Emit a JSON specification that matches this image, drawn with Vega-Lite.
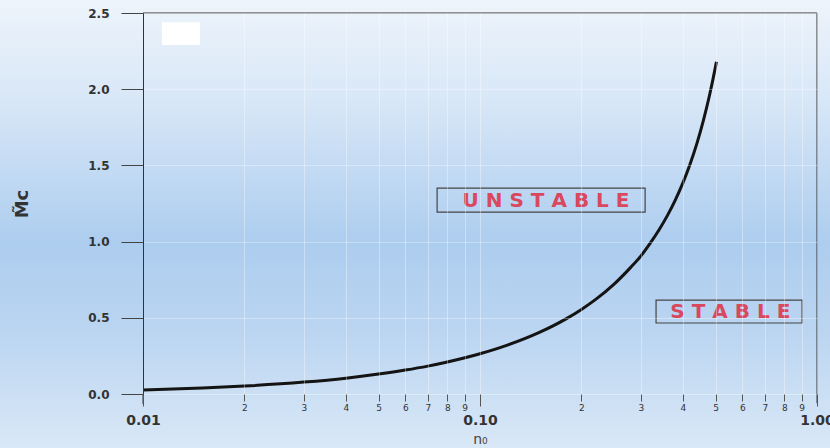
{
  "$schema": "https://vega.github.io/schema/vega-lite/v6.json",
  "autosize": "none",
  "width": 674,
  "height": 381,
  "padding": {"left": 143, "top": 13, "right": 13, "bottom": 54},
  "background": "#cfe1f4",
  "config": {"view": {"stroke": null}},
  "datasets": {
    "curve": [
      {"n0": 0.01, "Mc": 0.026},
      {"n0": 0.015, "Mc": 0.039},
      {"n0": 0.02, "Mc": 0.052},
      {"n0": 0.03, "Mc": 0.078},
      {"n0": 0.04, "Mc": 0.104},
      {"n0": 0.05, "Mc": 0.131},
      {"n0": 0.06, "Mc": 0.157},
      {"n0": 0.07, "Mc": 0.183},
      {"n0": 0.08, "Mc": 0.21},
      {"n0": 0.1, "Mc": 0.264},
      {"n0": 0.12, "Mc": 0.319},
      {"n0": 0.15, "Mc": 0.404},
      {"n0": 0.18, "Mc": 0.493},
      {"n0": 0.2, "Mc": 0.555},
      {"n0": 0.22, "Mc": 0.619},
      {"n0": 0.25, "Mc": 0.721},
      {"n0": 0.28, "Mc": 0.831},
      {"n0": 0.3, "Mc": 0.905},
      {"n0": 0.32, "Mc": 0.99},
      {"n0": 0.34, "Mc": 1.078},
      {"n0": 0.36, "Mc": 1.172},
      {"n0": 0.38, "Mc": 1.274},
      {"n0": 0.4, "Mc": 1.385},
      {"n0": 0.42, "Mc": 1.508},
      {"n0": 0.44, "Mc": 1.643},
      {"n0": 0.46, "Mc": 1.794},
      {"n0": 0.48, "Mc": 1.962},
      {"n0": 0.5, "Mc": 2.15},
      {"n0": 0.503, "Mc": 2.18}
    ],
    "labels": [
      {"label": "U N S T A B L E", "x": 0.157, "y": 1.265, "bx": 0.0746, "bx2": 0.309, "by": 1.193, "by2": 1.351},
      {"label": "S T A B L E", "x": 0.553, "y": 0.538, "bx": 0.333, "bx2": 0.903, "by": 0.466, "by2": 0.616}
    ],
    "frame": [
      {"x": 0.01, "x2": 1, "y": 2.5, "y2": 2.5},
      {"x": 1, "x2": 1, "y": -0.06, "y2": 2.5},
      {"x": 0.01, "x2": 0.01, "y": -0.065, "y2": 0}
    ]
  },
  "layer": [
    {
      "data": {"values": [{"x": 0.003, "x2": 1.2, "y": -0.4, "y2": 2.7}]},
      "mark": {
        "type": "rect",
        "fill": {
          "gradient": "linear", "x1": 0, "y1": 0, "x2": 0, "y2": 1,
          "stops": [
            {"offset": 0, "color": "#f1f6fc"},
            {"offset": 0.25, "color": "#d8e7f7"},
            {"offset": 0.55, "color": "#adcdef"},
            {"offset": 0.74, "color": "#bbd5f1"},
            {"offset": 1, "color": "#dbe9f7"}
          ]
        }
      },
      "encoding": {
        "x": {"field": "x", "type": "quantitative", "scale": {"type": "log", "domain": [0.01, 1], "nice": false}},
        "x2": {"field": "x2"},
        "y": {"field": "y", "type": "quantitative", "scale": {"domain": [0, 2.5], "nice": false, "zero": false}},
        "y2": {"field": "y2"}
      }
    },
    {
      "data": {"values": [{"x": 0.01138, "x2": 0.01476, "y": 2.29, "y2": 2.44}]},
      "mark": {"type": "rect", "fill": "#ffffff"},
      "encoding": {
        "x": {"field": "x", "type": "quantitative"},
        "x2": {"field": "x2"},
        "y": {"field": "y", "type": "quantitative"},
        "y2": {"field": "y2"}
      }
    },
    {
      "data": {"name": "frame"},
      "mark": {"type": "rule", "stroke": "#333333", "strokeWidth": 1},
      "encoding": {
        "x": {"field": "x", "type": "quantitative"},
        "x2": {"field": "x2"},
        "y": {"field": "y", "type": "quantitative"},
        "y2": {"field": "y2"}
      }
    },
    {
      "data": {"name": "curve"},
      "mark": {"type": "line", "stroke": "#141414", "strokeWidth": 3, "interpolate": "monotone"},
      "encoding": {
        "x": {
          "field": "n0", "type": "quantitative",
          "axis": {
            "zindex": 1,
            "title": "n₀",
            "titleFont": "DejaVu Sans",
            "titleFontSize": 14,
            "titleFontWeight": "normal",
            "titleColor": "#444444",
            "titlePadding": 5,
            "domain": false,
            "values": [0.01, 0.02, 0.03, 0.04, 0.05, 0.06, 0.07, 0.08, 0.09, 0.1, 0.2, 0.3, 0.4, 0.5, 0.6, 0.7, 0.8, 0.9, 1],
            "labelExpr": "(datum.value == 0.01 || datum.value == 0.1 || datum.value == 1) ? format(datum.value, '.2f') : substring(format(datum.value, '.0e'), 0, 1)",
            "labelFont": "DejaVu Sans",
            "labelColor": "#333333",
            "labelFontSize": {"condition": {"test": "datum.value == 0.01 || datum.value == 0.1 || datum.value == 1", "value": 14}, "value": 9},
            "labelFontWeight": {"condition": {"test": "datum.value == 0.01 || datum.value == 0.1 || datum.value == 1", "value": "bold"}, "value": "normal"},
            "labelPadding": {"condition": {"test": "datum.value == 0.01 || datum.value == 0.1 || datum.value == 1", "value": 7}, "value": 2},
            "tickSize": {"condition": {"test": "datum.value == 0.01 || datum.value == 0.1 || datum.value == 1", "value": 12}, "value": 7},
            "tickColor": "#555555",
            "labelOverlap": false,
            "labelFlush": false,
            "grid": true,
            "gridColor": "#ffffff",
            "gridOpacity": 0.35
          }
        },
        "y": {
          "field": "Mc", "type": "quantitative",
          "axis": {
            "zindex": 1,
            "title": "M̃c",
            "titleFont": "DejaVu Sans",
            "titleFontSize": 18,
            "titleFontWeight": "bold",
            "titleColor": "#333333",
            "titlePadding": 56,
            "domain": true,
            "domainColor": "#333333",
            "values": [0, 0.25, 0.5, 0.75, 1, 1.25, 1.5, 1.75, 2, 2.25, 2.5],
            "labelExpr": "round(datum.value * 4) % 2 == 0 ? format(datum.value, '.1f') : ''",
            "labelFont": "DejaVu Sans",
            "labelFontSize": 12,
            "labelFontWeight": "bold",
            "labelColor": "#333333",
            "labelPadding": 12,
            "tickSize": {"condition": {"test": "round(datum.value * 4) % 2 == 0", "value": 22}, "value": 10},
            "tickColor": "#444444",
            "grid": true,
            "gridColor": "#ffffff",
            "gridOpacity": 0.35
          }
        }
      }
    },
    {
      "data": {"name": "labels"},
      "mark": {"type": "rect", "fill": null, "stroke": "#444444", "strokeWidth": 1.2},
      "encoding": {
        "x": {"field": "bx", "type": "quantitative"},
        "x2": {"field": "bx2"},
        "y": {"field": "by", "type": "quantitative"},
        "y2": {"field": "by2"}
      }
    },
    {
      "data": {"name": "labels"},
      "mark": {"type": "text", "font": "DejaVu Sans", "fontWeight": "bold", "fontSize": 20, "fill": "#d9485e", "align": "center", "baseline": "middle"},
      "encoding": {
        "x": {"field": "x", "type": "quantitative"},
        "y": {"field": "y", "type": "quantitative"},
        "text": {"field": "label"}
      }
    }
  ]
}
